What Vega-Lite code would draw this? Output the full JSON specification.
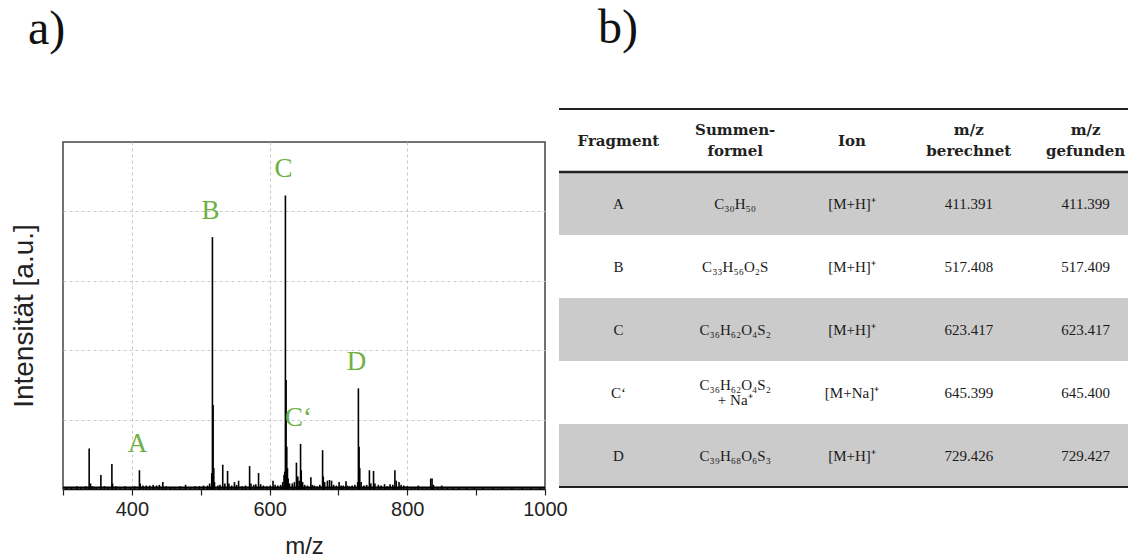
{
  "$schema": "https://vega.github.io/schema/vega-lite/v6.json",
  "background": "white",
  "padding": {"left": 9, "top": 5, "right": 0, "bottom": 0},
  "spacing": 14,
  "bounds": "flush",
  "datasets": {
    "spectrum": [
      {"mz": 305, "I": 0.03}, {"mz": 312, "I": 0.03}, {"mz": 320, "I": 0.04}, {"mz": 326, "I": 0.03},
      {"mz": 333, "I": 0.04}, {"mz": 338, "I": 0.585}, {"mz": 340, "I": 0.08}, {"mz": 343, "I": 0.04},
      {"mz": 348, "I": 0.03}, {"mz": 355, "I": 0.2}, {"mz": 360, "I": 0.04}, {"mz": 366, "I": 0.03},
      {"mz": 371, "I": 0.36}, {"mz": 372, "I": 0.08}, {"mz": 377, "I": 0.04}, {"mz": 383, "I": 0.03},
      {"mz": 390, "I": 0.04}, {"mz": 398, "I": 0.03}, {"mz": 404, "I": 0.04}, {"mz": 411, "I": 0.27, "label": "A"},
      {"mz": 412, "I": 0.08}, {"mz": 416, "I": 0.05}, {"mz": 421, "I": 0.05}, {"mz": 426, "I": 0.05},
      {"mz": 431, "I": 0.06}, {"mz": 436, "I": 0.05}, {"mz": 440, "I": 0.06}, {"mz": 445, "I": 0.1},
      {"mz": 450, "I": 0.04}, {"mz": 456, "I": 0.03}, {"mz": 462, "I": 0.03}, {"mz": 470, "I": 0.04},
      {"mz": 478, "I": 0.06}, {"mz": 485, "I": 0.03}, {"mz": 492, "I": 0.04}, {"mz": 498, "I": 0.04},
      {"mz": 504, "I": 0.05}, {"mz": 510, "I": 0.05}, {"mz": 513, "I": 0.08}, {"mz": 516, "I": 0.23},
      {"mz": 517, "I": 3.63, "label": "B"}, {"mz": 518, "I": 1.21}, {"mz": 519, "I": 0.3}, {"mz": 520, "I": 0.1},
      {"mz": 525, "I": 0.05}, {"mz": 528, "I": 0.06}, {"mz": 532, "I": 0.35}, {"mz": 535, "I": 0.08},
      {"mz": 539, "I": 0.26}, {"mz": 541, "I": 0.08}, {"mz": 545, "I": 0.05}, {"mz": 549, "I": 0.1},
      {"mz": 552, "I": 0.06}, {"mz": 555, "I": 0.12}, {"mz": 560, "I": 0.04}, {"mz": 565, "I": 0.05},
      {"mz": 571, "I": 0.33}, {"mz": 573, "I": 0.08}, {"mz": 577, "I": 0.06}, {"mz": 580, "I": 0.07},
      {"mz": 584, "I": 0.23}, {"mz": 587, "I": 0.07}, {"mz": 591, "I": 0.05}, {"mz": 596, "I": 0.04},
      {"mz": 601, "I": 0.05}, {"mz": 605, "I": 0.12}, {"mz": 608, "I": 0.06}, {"mz": 612, "I": 0.05},
      {"mz": 616, "I": 0.06}, {"mz": 619, "I": 0.1}, {"mz": 621, "I": 0.2}, {"mz": 622, "I": 0.25},
      {"mz": 623, "I": 4.23, "label": "C"}, {"mz": 624, "I": 1.57}, {"mz": 625, "I": 0.61}, {"mz": 626, "I": 0.3},
      {"mz": 627, "I": 0.15}, {"mz": 629, "I": 0.08}, {"mz": 633, "I": 0.08}, {"mz": 636, "I": 0.1},
      {"mz": 639, "I": 0.38}, {"mz": 641, "I": 0.18}, {"mz": 643, "I": 0.12}, {"mz": 645, "I": 0.65, "label": "C‘"},
      {"mz": 646, "I": 0.27}, {"mz": 648, "I": 0.1}, {"mz": 651, "I": 0.06}, {"mz": 655, "I": 0.05},
      {"mz": 660, "I": 0.17}, {"mz": 662, "I": 0.06}, {"mz": 665, "I": 0.05}, {"mz": 669, "I": 0.04},
      {"mz": 673, "I": 0.06}, {"mz": 677, "I": 0.56}, {"mz": 678, "I": 0.18}, {"mz": 680, "I": 0.1},
      {"mz": 684, "I": 0.12}, {"mz": 687, "I": 0.13}, {"mz": 690, "I": 0.12}, {"mz": 693, "I": 0.06},
      {"mz": 697, "I": 0.05}, {"mz": 701, "I": 0.1}, {"mz": 704, "I": 0.05}, {"mz": 707, "I": 0.05},
      {"mz": 711, "I": 0.11}, {"mz": 713, "I": 0.05}, {"mz": 716, "I": 0.04}, {"mz": 720, "I": 0.05},
      {"mz": 724, "I": 0.06}, {"mz": 728, "I": 0.1}, {"mz": 729, "I": 1.45, "label": "D"}, {"mz": 730, "I": 0.61},
      {"mz": 731, "I": 0.3}, {"mz": 733, "I": 0.1}, {"mz": 737, "I": 0.05}, {"mz": 741, "I": 0.06},
      {"mz": 745, "I": 0.27}, {"mz": 747, "I": 0.08}, {"mz": 751, "I": 0.26}, {"mz": 753, "I": 0.08},
      {"mz": 758, "I": 0.06}, {"mz": 762, "I": 0.05}, {"mz": 767, "I": 0.07}, {"mz": 771, "I": 0.04},
      {"mz": 775, "I": 0.07}, {"mz": 779, "I": 0.06}, {"mz": 782, "I": 0.27}, {"mz": 784, "I": 0.12},
      {"mz": 788, "I": 0.1}, {"mz": 791, "I": 0.06}, {"mz": 795, "I": 0.05}, {"mz": 800, "I": 0.04},
      {"mz": 806, "I": 0.03}, {"mz": 811, "I": 0.03}, {"mz": 816, "I": 0.05}, {"mz": 822, "I": 0.03},
      {"mz": 828, "I": 0.03}, {"mz": 834, "I": 0.15}, {"mz": 836, "I": 0.15}, {"mz": 838, "I": 0.06},
      {"mz": 844, "I": 0.03}, {"mz": 850, "I": 0.05}, {"mz": 858, "I": 0.03}, {"mz": 866, "I": 0.02},
      {"mz": 875, "I": 0.03}, {"mz": 886, "I": 0.02}, {"mz": 897, "I": 0.02}, {"mz": 910, "I": 0.02},
      {"mz": 924, "I": 0.03}, {"mz": 938, "I": 0.02}, {"mz": 952, "I": 0.02}, {"mz": 967, "I": 0.02},
      {"mz": 980, "I": 0.02}, {"mz": 993, "I": 0.02}
    ],
    "table": [
      {"Fragment": "A", "Summenformel": "C₃₀H₅₀", "Ion": "[M+H]⁺", "berechnet": "411.391", "gefunden": "411.399"},
      {"Fragment": "B", "Summenformel": "C₃₃H₅₆O₂S", "Ion": "[M+H]⁺", "berechnet": "517.408", "gefunden": "517.409"},
      {"Fragment": "C", "Summenformel": "C₃₆H₆₂O₄S₂", "Ion": "[M+H]⁺", "berechnet": "623.417", "gefunden": "623.417"},
      {"Fragment": "C‘", "Summenformel": "C₃₆H₆₂O₄S₂\n+ Na⁺", "Ion": "[M+Na]⁺", "berechnet": "645.399", "gefunden": "645.400"},
      {"Fragment": "D", "Summenformel": "C₃₉H₆₈O₆S₃", "Ion": "[M+H]⁺", "berechnet": "729.426", "gefunden": "729.427"}
    ],
    "header": [
      {"col": "Fragment", "label": "Fragment"},
      {"col": "Summenformel", "label": "Summen-\nformel"},
      {"col": "Ion", "label": "Ion"},
      {"col": "berechnet", "label": "m/z\nberechnet"},
      {"col": "gefunden", "label": "m/z\ngefunden"}
    ]
  },
  "hconcat": [
    {
      "width": 482,
      "height": 347,
      "view": {"stroke": "#444", "strokeWidth": 1.5},
      "title": {"text": "a)", "anchor": "start", "frame": "group", "dx": -35, "offset": 50, "baseline": "alphabetic", "font": "Liberation Serif", "fontSize": 48, "fontWeight": "normal", "color": "#111"},
      "data": {"name": "spectrum"},
      "layer": [
        {
          "mark": {"type": "rule", "color": "#000", "strokeWidth": 1.6},
          "encoding": {
            "x": {"field": "mz", "type": "quantitative",
              "scale": {"domain": [300, 1000], "nice": false, "zero": false},
              "axis": {
                "title": "m/z", "values": [300, 400, 500, 600, 700, 800, 900, 1000], "format": "d",
                "labelExpr": "datum.value % 200 === 0 ? datum.label : ''",
                "labelFlush": false, "labelOverlap": false,
                "grid": true, "gridDash": [3, 3], "gridColor": "#c8c8c8",
                "gridOpacity": {"condition": {"test": "datum.value % 200 === 0 && datum.value < 1000", "value": 1}, "value": 0},
                "tickColor": "#222", "tickSize": 6, "tickWidth": 1.2,
                "domainColor": "#111", "domainWidth": 1.5,
                "labelFont": "Liberation Sans", "labelFontSize": 20, "labelColor": "#222", "labelPadding": 4,
                "titleFont": "Liberation Sans", "titleFontSize": 24, "titleFontWeight": "normal", "titleColor": "#222", "titlePadding": 15
              }
            },
            "y": {"field": "I", "type": "quantitative",
              "scale": {"domain": [0, 5], "nice": false},
              "axis": {
                "title": "Intensität [a.u.]", "values": [1, 2, 3, 4], "labels": false, "ticks": false, "domain": false,
                "grid": true, "gridDash": [3, 3], "gridColor": "#c8c8c8",
                "titleFont": "Liberation Sans", "titleFontSize": 28, "titleFontWeight": "normal", "titleColor": "#222", "titlePadding": 25
              }
            },
            "y2": {"datum": 0}
          }
        },
        {
          "data": {"values": [{}]},
          "mark": {"type": "rule", "color": "#000", "strokeWidth": 2},
          "encoding": {"y": {"datum": 0.02, "type": "quantitative"}}
        },
        {
          "transform": [{"filter": "datum.label"}],
          "mark": {"type": "text", "font": "Liberation Serif", "fontSize": 27, "color": "#6fb043", "baseline": "alphabetic", "dy": -18, "dx": -2},
          "encoding": {
            "x": {"field": "mz", "type": "quantitative"},
            "y": {"field": "I", "type": "quantitative"},
            "text": {"field": "label"}
          }
        }
      ]
    },
    {
      "width": 569,
      "height": 345,
      "view": {"stroke": null},
      "title": {"text": "b)", "anchor": "start", "frame": "group", "dx": 39, "offset": 17, "baseline": "alphabetic", "font": "Liberation Serif", "fontSize": 48, "fontWeight": "normal", "color": "#111"},
      "layer": [
        {
          "data": {"name": "table"},
          "transform": [
            {"window": [{"op": "row_number", "as": "rn"}]},
            {"filter": "datum.rn % 2 === 1"}
          ],
          "mark": {"type": "rect", "color": "#cbcbcb"},
          "encoding": {
            "y": {"field": "Fragment", "type": "nominal",
              "scale": {"domain": ["header", "A", "B", "C", "C‘", "D"], "range": [-33, 345], "paddingInner": 0, "paddingOuter": 0},
              "axis": null, "sort": null},
            "x": {"value": 0},
            "x2": {"value": "width"}
          }
        },
        {
          "data": {"values": [{}]},
          "mark": {"type": "rule", "color": "#222", "strokeWidth": 2},
          "encoding": {"y": {"datum": "header", "type": "nominal", "bandPosition": 0}}
        },
        {
          "data": {"values": [{}]},
          "mark": {"type": "rule", "color": "#222", "strokeWidth": 2.5},
          "encoding": {"y": {"datum": "A", "type": "nominal", "bandPosition": 0}}
        },
        {
          "data": {"values": [{}]},
          "mark": {"type": "rule", "color": "#222", "strokeWidth": 2},
          "encoding": {"y": {"datum": "D", "type": "nominal", "bandPosition": 1}}
        },
        {
          "data": {"name": "table"},
          "transform": [
            {"fold": ["Fragment", "Summenformel", "Ion", "berechnet", "gefunden"], "as": ["col", "val"]},
            {"filter": "indexof(datum.val, '\\n') < 0"}
          ],
          "mark": {"type": "text", "font": "Liberation Serif", "fontSize": 15, "color": "#1a1a1a", "baseline": "middle", "align": "center"},
          "encoding": {
            "x": {"field": "col", "type": "nominal",
              "scale": {"domain": ["Fragment", "Summenformel", "Ion", "berechnet", "gefunden"], "range": [1, 585], "paddingInner": 0, "paddingOuter": 0},
              "axis": null, "sort": null},
            "y": {"field": "Fragment", "type": "nominal"},
            "text": {"field": "val", "type": "nominal"}
          }
        },
        {
          "data": {"name": "table"},
          "transform": [
            {"fold": ["Fragment", "Summenformel", "Ion", "berechnet", "gefunden"], "as": ["col", "val"]},
            {"filter": "indexof(datum.val, '\\n') >= 0"}
          ],
          "mark": {"type": "text", "font": "Liberation Serif", "fontSize": 15, "color": "#1a1a1a", "baseline": "middle", "align": "center", "lineBreak": "\n", "lineHeight": 15, "dy": -7.5},
          "encoding": {
            "x": {"field": "col", "type": "nominal"},
            "y": {"field": "Fragment", "type": "nominal"},
            "text": {"field": "val", "type": "nominal"}
          }
        },
        {
          "data": {"name": "header"},
          "transform": [{"filter": "indexof(datum.label, '\\n') < 0"}],
          "mark": {"type": "text", "font": "DejaVu Serif", "fontSize": 15, "fontWeight": "bold", "color": "#222", "baseline": "middle", "align": "center"},
          "encoding": {
            "x": {"field": "col", "type": "nominal"},
            "y": {"datum": "header", "type": "nominal"},
            "text": {"field": "label", "type": "nominal"}
          }
        },
        {
          "data": {"name": "header"},
          "transform": [{"filter": "indexof(datum.label, '\\n') >= 0"}],
          "mark": {"type": "text", "font": "DejaVu Serif", "fontSize": 15, "fontWeight": "bold", "color": "#222", "baseline": "middle", "align": "center", "lineBreak": "\n", "lineHeight": 21, "dy": -10.5},
          "encoding": {
            "x": {"field": "col", "type": "nominal"},
            "y": {"datum": "header", "type": "nominal"},
            "text": {"field": "label", "type": "nominal"}
          }
        }
      ]
    }
  ],
  "config": {
    "view": {"stroke": null},
    "font": "Liberation Sans"
  }
}
